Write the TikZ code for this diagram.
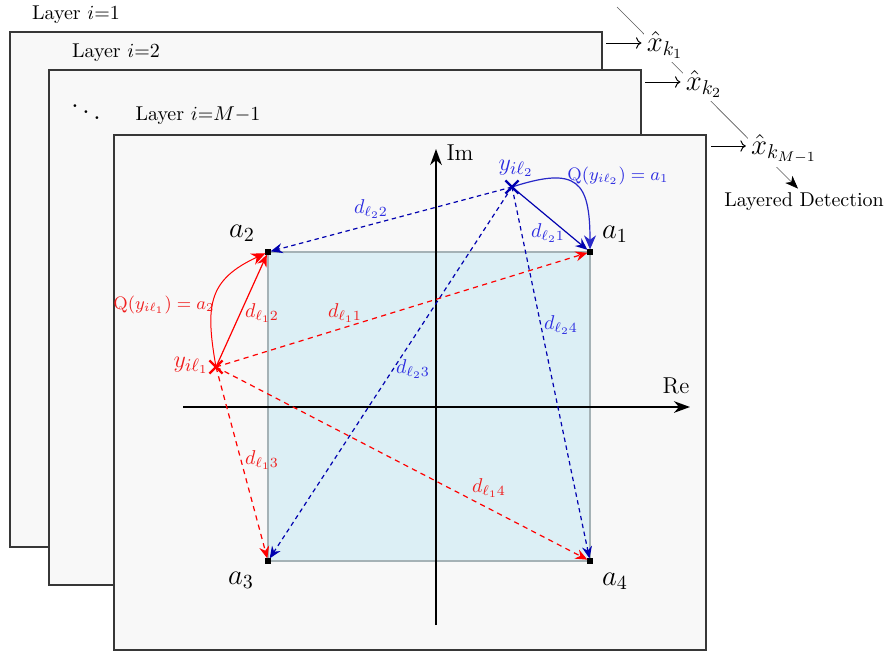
\documentclass[tikz,border=0pt]{standalone}
\usetikzlibrary{arrows.meta,calc,shapes.misc}
\definecolor{layerfill}{RGB}{248,248,248}
\definecolor{layerdraw}{RGB}{55,55,55}
\definecolor{sqfill}{RGB}{220,239,245}
\definecolor{sqdraw}{RGB}{165,178,182}
\definecolor{bline}{RGB}{0,0,175}
\definecolor{bcurve}{RGB}{40,40,200}
\definecolor{btext}{RGB}{45,45,225}
\definecolor{rline}{RGB}{255,0,0}
\definecolor{rtext}{RGB}{240,30,30}
\definecolor{thingray}{RGB}{90,90,90}
\begin{document}
\begin{tikzpicture}[x=0.5pt,y=-0.5pt,
  layer/.style={draw=layerdraw, fill=layerfill, line width=0.6pt, anchor=north west,
    minimum width=296pt, minimum height=257.5pt, inner sep=0pt, outer sep=0pt},
  laylbl/.style={font=\normalsize, inner sep=1pt},
  pt/.style={fill=black, inner sep=0pt, minimum size=2.6pt, outer sep=0pt},
  dtip/.style={-{Stealth[length=6pt,width=5pt,inset=2pt]}},
  qtip/.style={-{Stealth[length=7pt,width=6pt,inset=2.2pt]}},
  atip/.style={-{Stealth[length=8pt,width=5.8pt,inset=2.5pt]}},
  bdash/.style={draw=bline, line width=0.6pt, dash pattern=on 2.2pt off 1.8pt, dtip},
  bsolid/.style={draw=bline, line width=0.6pt, dtip},
  rdash/.style={draw=rline, line width=0.6pt, dash pattern=on 2.6pt off 2.2pt, dtip},
  rsolid/.style={draw=rline, line width=0.6pt, dtip},
  axis/.style={draw=black, line width=0.9pt, atip},
  bl/.style={text=btext, font=\normalsize, inner sep=1pt},
  rl/.style={text=rtext, font=\normalsize, inner sep=1pt},
  alab/.style={font=\fontsize{14}{16}\selectfont, inner sep=1pt},
  ylab/.style={font=\fontsize{13}{15}\selectfont, inner sep=1pt},
  xmark/.style={cross out, draw, line width=1.1pt, minimum size=5.5pt, inner sep=0pt},
  xh/.style={font=\Large, fill=white, inner sep=1.5pt},
  thinl/.style={draw=thingray, line width=0.3pt},
  larr/.style={draw=black, line width=0.5pt, ->}
]
\useasboundingbox (0,0) rectangle (886,654);

% layers
\node[layer] (L1) at (10,32) {};
\node[laylbl] (t1) at (76,15) {Layer $i{=}1$};
\node[layer] (L2) at (49,70) {};
\node[laylbl] (t2) at (116,53) {Layer $i{=}2$};
\node[inner sep=0pt, font=\Large] (dd) at (86,106) {$\ddots$};
\node[layer] (L3) at (114,135) {};
\node[laylbl] (t3) at (198,116) {Layer $i{=}M{-}1$};

% constellation square
\coordinate (c1) at (590,252);
\coordinate (c2) at (268,252);
\coordinate (c3) at (268,561);
\coordinate (c4) at (590,561);
\draw[fill=sqfill, draw=sqdraw, line width=0.9pt] (c2) rectangle (c4);

% axes
\coordinate (reL) at (183,407);
\coordinate (reR) at (690,407);
\coordinate (imB) at (436,625);
\coordinate (imT) at (436,149);
\draw[axis] (reL) -- (reR);
\draw[axis] (imB) -- (imT);
\node[font=\fontsize{11.5}{13}\selectfont, inner sep=1pt] (Im) at (460,153) {Im};
\node[font=\fontsize{11.5}{13}\selectfont, inner sep=1pt] (Re) at (676,386) {Re};

% constellation points
\node[pt] (a1) at (c1) {};
\node[pt] (a2) at (c2) {};
\node[pt] (a3) at (c3) {};
\node[pt] (a4) at (c4) {};
\node[alab] (la1) at (615,234) {$a_1$};
\node[alab] (la2) at (242,233) {$a_2$};
\node[alab] (la3) at (241,580) {$a_3$};
\node[alab] (la4) at (615,581) {$a_4$};

% received points
\coordinate (y1) at (216,367);
\coordinate (y2) at (512,187);

% blue distances
\draw[bdash] (y2) -- (a2);
\draw[bdash] (y2) -- (a3);
\draw[bdash] (y2) -- (a4);
\draw[bsolid] (y2) -- (a1);
\draw[draw=bcurve, line width=0.6pt, qtip] (y2) to[out=18,in=90,looseness=1.75] (a1);

% red distances
\draw[rdash] (y1) -- (a1);
\draw[rdash] (y1) -- (a3);
\draw[rdash] (y1) -- (a4);
\draw[rsolid] (y1) -- (a2);
\draw[draw=rline, line width=0.5pt, qtip] (y1) to[out=100,in=205,looseness=1.3] (a2);

\node[xmark, draw=bline] (m2) at (y2) {};
\node[xmark, draw=rline] (m1) at (y1) {};
\node[ylab, text=btext] (ly2) at (516,168) {$y_{i\ell_2}$};
\node[ylab, text=rtext] (ly1) at (191,365) {$y_{i\ell_1}$};

% labels
\node[bl] (db2) at (371,209) {$d_{\ell_2 2}$};
\node[bl] (db1) at (548,233) {$d_{\ell_2 1}$};
\node[bl] (db4) at (561,325) {$d_{\ell_2 4}$};
\node[bl] (db3) at (413,369) {$d_{\ell_2 3}$};
\node[rl] (dr2) at (262,313) {$d_{\ell_1 2}$};
\node[rl] (dr1) at (345,313) {$d_{\ell_1 1}$};
\node[rl] (dr3) at (262,460) {$d_{\ell_1 3}$};
\node[rl] (dr4) at (489,488) {$d_{\ell_1 4}$};
\node[text=btext, font=\small, inner sep=1pt] (qb) at (618,176) {$\mathrm{Q}(y_{i\ell_2})=a_1$};
\node[text=rtext, font=\small, inner sep=1pt] (qr) at (164,305) {$\mathrm{Q}(y_{i\ell_1})=a_2$};

% layered detection
\node[font=\normalsize, inner sep=2pt] (LD) at (804,202) {Layered Detection};
\coordinate (ctop) at (617,7);
\draw[thinl, -{Stealth[length=6.5pt,width=5pt,inset=1.8pt,color=black]}] (ctop) -- ([xshift=-3pt]LD.north);
\node[xh] (xk1) at (665,45) {$\hat{x}_{k_1}$};
\node[xh] (xk2) at (704,84) {$\hat{x}_{k_2}$};
\node[xh] (xk3) at (784,149) {$\hat{x}_{k_{M-1}}$};
\coordinate (o1) at ($(L1.north east)+(4,11)$);
\coordinate (o2) at ($(L2.north east)+(4,12)$);
\coordinate (o3) at ($(L3.north east)+(5,11)$);
\draw[larr, shorten >=1pt] (o1) -- (o1 -| xk1.west);
\draw[larr, shorten >=1pt] (o2) -- (o2 -| xk2.west);
\draw[larr, shorten >=1pt] (o3) -- (o3 -| xk3.west);
\end{tikzpicture}
\end{document}
